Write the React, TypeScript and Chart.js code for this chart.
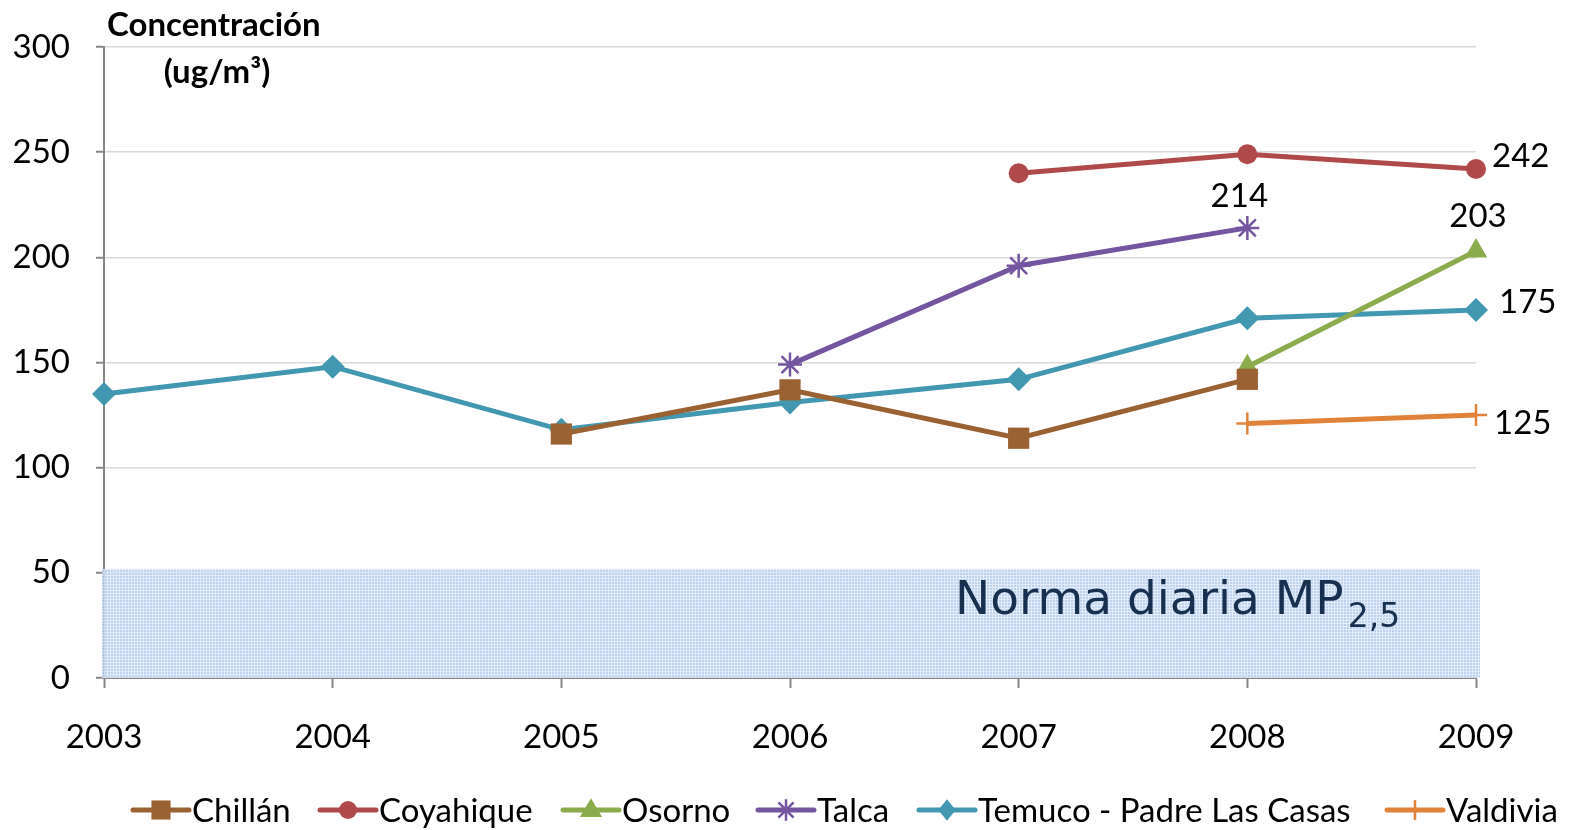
import React, { useEffect, useRef } from "react";
import { Chart, registerables } from "chart.js";

Chart.register(...registerables);

const years = ["2003", "2004", "2005", "2006", "2007", "2008", "2009"];
const chillan = [null, null, 116, 137, 114, 142, null];
const coyhaique = [null, null, null, null, 240, 249, 242];
const osorno = [null, null, null, null, null, 148, 203];
const talca = [null, null, null, 149, 196, 214, null];
const temuco = [135, 148, 118, 131, 142, 171, 175];
const valdivia = [null, null, null, null, null, 121, 125];
const seriesNames = ["Chillán", "Coyahique", "Osorno", "Talca", "Temuco - Padre Las Casas", "Valdivia"];
const normaLimit = 50;
const axisTitle = ["Concentración", "(ug/m³)"];
const normaText = "Norma diaria MP";
const normaSub = "2,5";

const colors = ["#9a6232", "#b0494a", "#8cab4c", "#7455a0", "#4298b0", "#e0823a"];
const styles = ["rect", "circle", "triangle", "star", "rectRot", "cross"];
const radii = [15, 10, 13, 12, 12, 11];

const FONT = "Lato, 'Open Sans', sans-serif";

function drawMarker(ctx: CanvasRenderingContext2D, style: string, x: number, y: number, r: number, color: string) {
  ctx.save();
  ctx.fillStyle = color;
  ctx.strokeStyle = color;
  ctx.lineWidth = 2.5;
  ctx.beginPath();
  if (style === "rect") {
    const s = Math.SQRT1_2 * r;
    ctx.rect(x - s, y - s, 2 * s, 2 * s);
    ctx.fill();
  } else if (style === "circle") {
    ctx.arc(x, y, r, 0, Math.PI * 2);
    ctx.fill();
  } else if (style === "triangle") {
    ctx.moveTo(x, y - r);
    ctx.lineTo(x + r * 0.95, y + r * 0.6);
    ctx.lineTo(x - r * 0.95, y + r * 0.6);
    ctx.closePath();
    ctx.fill();
  } else if (style === "rectRot") {
    ctx.moveTo(x, y - r);
    ctx.lineTo(x + r * 0.8, y);
    ctx.lineTo(x, y + r);
    ctx.lineTo(x - r * 0.8, y);
    ctx.closePath();
    ctx.fill();
  } else if (style === "star") {
    const d = r * 0.7;
    ctx.moveTo(x, y - r); ctx.lineTo(x, y + r);
    ctx.moveTo(x - d, y - d); ctx.lineTo(x + d, y + d);
    ctx.moveTo(x + d, y - d); ctx.lineTo(x - d, y + d);
    ctx.stroke();
  } else if (style === "cross") {
    ctx.moveTo(x, y - r); ctx.lineTo(x, y + r);
    ctx.stroke();
  }
  ctx.restore();
}

const decorPlugin = {
  id: "decor",
  beforeDatasetsDraw(chart: any) {
    const { ctx, chartArea, scales } = chart;
    const yTop = scales.y.getPixelForValue(normaLimit) - 4;
    const yBot = scales.y.getPixelForValue(0);
    const pc = document.createElement("canvas");
    pc.width = 3; pc.height = 3;
    const p = pc.getContext("2d")!;
    p.fillStyle = "#b3caed";
    p.fillRect(0, 0, 3, 3);
    p.fillStyle = "#dde8f7";
    p.fillRect(2, 0, 1, 3);
    p.fillRect(0, 2, 3, 1);
    const pattern = ctx.createPattern(pc, "repeat");
    ctx.save();
    ctx.globalAlpha = 0.85;
    ctx.fillStyle = pattern;
    ctx.fillRect(chartArea.left - 2, yTop, chartArea.right - chartArea.left + 6, yBot - yTop);
    ctx.restore();
    ctx.save();
    ctx.fillStyle = "#17304f";
    ctx.font = "47px 'DejaVu Sans'";
    ctx.textBaseline = "alphabetic";
    ctx.textAlign = "left";
    const tx = 955, ty = 614;
    ctx.fillText(normaText, tx, ty);
    const w = ctx.measureText(normaText).width;
    ctx.font = "33px 'DejaVu Sans'";
    ctx.fillText(normaSub, tx + w + 4, ty + 13);
    ctx.restore();
  },
  afterDraw(chart: any) {
    const { ctx } = chart;
    ctx.save();
    ctx.fillStyle = "#000";
    ctx.font = `bold 33px ${FONT}`;
    ctx.textBaseline = "alphabetic";
    ctx.textAlign = "left";
    ctx.fillText(axisTitle[0], 107, 36);
    ctx.textAlign = "center";
    ctx.fillText(axisTitle[1], 217, 83);
    ctx.font = `33px ${FONT}`;
    const labelSpecs = [
      { ds: 1, i: 6, dx: 16, dy: -13, align: "left" },
      { ds: 3, i: 5, dx: -8, dy: -32, align: "center" },
      { ds: 2, i: 6, dx: 2, dy: -35, align: "center" },
      { ds: 4, i: 6, dx: 23, dy: -8, align: "left" },
      { ds: 5, i: 6, dx: 18, dy: 8, align: "left" },
    ];
    ctx.textBaseline = "middle";
    labelSpecs.forEach((s) => {
      const el = chart.getDatasetMeta(s.ds).data[s.i];
      const v = chart.data.datasets[s.ds].data[s.i];
      ctx.textAlign = s.align;
      ctx.fillText(String(v), el.x + s.dx, el.y + s.dy);
    });
    const legendX = [133, 320, 563, 758, 919, 1387];
    const ly = 810;
    seriesNames.forEach((name, k) => {
      const x0 = legendX[k];
      ctx.save();
      ctx.strokeStyle = colors[k];
      ctx.lineWidth = 5;
      ctx.lineCap = "round";
      ctx.beginPath();
      ctx.moveTo(x0, ly);
      ctx.lineTo(x0 + 56, ly);
      ctx.stroke();
      ctx.restore();
      drawMarker(ctx, styles[k], x0 + 28, ly, radii[k] * 0.9, colors[k]);
      ctx.fillStyle = "#000";
      ctx.textAlign = "left";
      ctx.textBaseline = "middle";
      ctx.font = `33px ${FONT}`;
      ctx.fillText(name, x0 + 59, ly + 1);
    });
    ctx.restore();
  },
};

export default function App() {
  const ref = useRef<HTMLCanvasElement>(null);
  useEffect(() => {
    const series = [chillan, coyhaique, osorno, talca, temuco, valdivia];
    const chart = new Chart(ref.current!, {
      type: "line",
      data: {
        labels: years,
        datasets: series.map((d, k) => ({
          label: seriesNames[k],
          data: d,
          borderColor: colors[k],
          backgroundColor: colors[k],
          borderWidth: 5,
          pointStyle: styles[k] as any,
          pointRadius: radii[k],
          pointBorderWidth: k === 3 || k === 5 ? 2.5 : 0,
          pointBorderColor: colors[k],
          pointBackgroundColor: colors[k],
          spanGaps: false,
          tension: 0,
        })),
      },
      options: {
        responsive: false,
        animation: false,
        layout: { padding: { top: 47, right: 94, bottom: 52, left: 0 } },
        plugins: { legend: { display: false }, tooltip: { enabled: false }, title: { display: false } },
        scales: {
          x: {
            type: "category",
            offset: false,
            grid: { drawOnChartArea: false, drawTicks: true, tickLength: 10, tickColor: "#868686", tickWidth: 2 },
            border: { display: true, color: "#868686", width: 2 },
            ticks: { color: "#000", font: { family: FONT, size: 33 }, padding: 30, maxRotation: 0 },
            afterFit: (s: any) => { s.height = 100; },
          },
          y: {
            min: 0,
            max: 300,
            ticks: { stepSize: 50, color: "#000", font: { family: FONT, size: 33 }, padding: 26 },
            grid: { color: "#d9d9d9", lineWidth: 1.5, tickLength: 8, tickColor: "#868686", tickWidth: 2 },
            border: { display: true, color: "#868686", width: 2 },
            afterFit: (s: any) => { s.width = 104; },
          },
        },
      },
      plugins: [decorPlugin],
    });
    return () => chart.destroy();
  }, []);
  return (
    <div style={{ position: "absolute", left: 0, top: 0, width: 1570, height: 830 }}>
      <canvas ref={ref} width={1570} height={830} />
    </div>
  );
}
